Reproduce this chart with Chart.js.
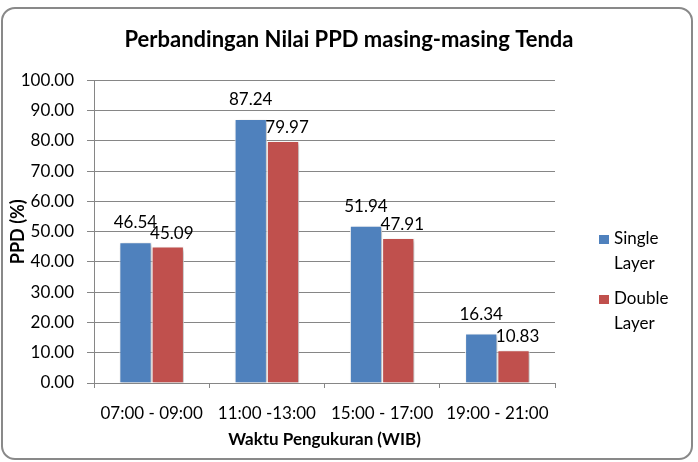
<!DOCTYPE html>
<html>
<head>
<meta charset="utf-8">
<script src="https://cdn.jsdelivr.net/npm/chart.js@4.4.1/dist/chart.umd.min.js"></script>
<style>
  html, body { margin: 0; padding: 0; background: #fff; }
  #wrap { position: relative; width: 698px; height: 462px; }
</style>
</head>
<body>
<div id="wrap"><canvas id="c" width="698" height="462"></canvas></div>
<script>
// chart data
const categories = ['07:00 - 09:00', '11:00 -13:00', '15:00 - 17:00', '19:00 - 21:00'];
const singleLayer = [46.54, 87.24, 51.94, 16.34];
const doubleLayer = [45.09, 79.97, 47.91, 10.83];
const seriesNames = ['Single Layer', 'Double Layer'];
const yTicks = [0, 10, 20, 30, 40, 50, 60, 70, 80, 90, 100];

const FONT = 'Lato, "Open Sans", sans-serif';
const gridGray = '#868686';

// rounded frame round the whole chart
const framePlugin = {
  id: 'frame',
  beforeDraw(chart) {
    const ctx = chart.ctx;
    ctx.save();
    ctx.fillStyle = '#fff';
    ctx.fillRect(0, 0, chart.width, chart.height);
    ctx.strokeStyle = '#898989';
    ctx.lineWidth = 2;
    ctx.beginPath();
    ctx.roundRect(2, 8, 690, 451, 13);
    ctx.stroke();
    ctx.restore();
  }
};

// bar shadows and value labels
// (excel nudges the second series' labels so they don't collide)
const labelShift = [{ dx: 0, gap: 14 }, { dx: 4, gap: 8 }];
const barPlugin = {
  id: 'barExtras',
  beforeDatasetsDraw(chart) {
    const ctx = chart.ctx;
    ctx.save();
    ctx.shadowColor = 'rgba(0,0,0,0.28)';
    ctx.shadowBlur = 4;
    ctx.shadowOffsetX = 2;
    ctx.shadowOffsetY = 2;
  },
  afterDatasetsDraw(chart) {
    const ctx = chart.ctx;
    ctx.restore();
    ctx.save();
    ctx.font = '17px ' + FONT;
    ctx.fillStyle = '#000';
    ctx.textAlign = 'center';
    ctx.textBaseline = 'alphabetic';
    chart.data.datasets.forEach((ds, i) => {
      const meta = chart.getDatasetMeta(i);
      const s = labelShift[i];
      meta.data.forEach((bar, j) => {
        ctx.fillText(ds.data[j].toFixed(2), bar.x + s.dx, bar.y - s.gap);
      });
    });
    ctx.restore();
  }
};

// legend on the right, names wrapped on two lines
const legendPlugin = {
  id: 'sideLegend',
  afterDraw(chart) {
    const ctx = chart.ctx;
    ctx.save();
    ctx.font = '17px ' + FONT;
    ctx.textBaseline = 'middle';
    ctx.textAlign = 'left';
    const tops = [239, 299];
    chart.data.datasets.forEach((ds, i) => {
      const y = tops[i];
      ctx.fillStyle = ds.backgroundColor;
      ctx.fillRect(599, y - 4, 10, 9);
      ctx.fillStyle = '#000';
      ds.label.split(' ').forEach((word, k) => {
        ctx.fillText(word, 614, y + k * 25);
      });
    });
    ctx.restore();
  }
};

new Chart(document.getElementById('c'), {
  type: 'bar',
  data: {
    labels: categories,
    datasets: [
      { label: seriesNames[0], data: singleLayer, backgroundColor: '#4F81BD', borderColor: '#fff', borderWidth: 1 },
      { label: seriesNames[1], data: doubleLayer, backgroundColor: '#C0504D', borderColor: '#fff', borderWidth: 1 }
    ]
  },
  plugins: [framePlugin, barPlugin, legendPlugin],
  options: {
    responsive: false,
    animation: false,
    categoryPercentage: 0.56,
    barPercentage: 1,
    layout: { padding: 0 },
    plugins: {
      legend: { display: false },
      tooltip: { enabled: false },
      title: {
        display: true,
        text: 'Perbandingan Nilai PPD masing-masing Tenda',
        color: '#000',
        font: { family: FONT, size: 22, weight: 'bold' },
        padding: { top: 27, bottom: 27 }
      }
    },
    scales: {
      x: {
        grid: { display: true, drawOnChartArea: false, offset: true, tickLength: 5, color: gridGray },
        border: { color: gridGray },
        ticks: { color: '#000', font: { family: FONT, size: 17 }, padding: 15, maxRotation: 0 },
        title: {
          display: true,
          text: 'Waktu Pengukuran (WIB)',
          color: '#000',
          font: { family: FONT, size: 17, weight: 'bold' },
          padding: { top: 0, bottom: 12 }
        },
        afterFit(scale) { scale.height = 79; }
      },
      y: {
        min: 0,
        max: 100,
        afterBuildTicks(scale) { scale.ticks = yTicks.map(v => ({ value: v })); },
        grid: { color: gridGray, tickLength: 7 },
        border: { color: gridGray },
        ticks: {
          color: '#000',
          font: { family: FONT, size: 17 },
          padding: 13,
          callback: v => Number(v).toFixed(2)
        },
        title: {
          display: true,
          text: 'PPD (%)',
          color: '#000',
          font: { family: FONT, size: 18, weight: 'bold' },
          padding: { top: 7, bottom: 0 }
        },
        afterFit(scale) { scale.width = 94; }
      },
      // empty axis that only keeps room for the legend on the right
      legendRoom: {
        type: 'linear',
        position: 'right',
        grid: { display: false },
        border: { display: false },
        ticks: { display: false },
        afterFit(scale) { scale.width = 143; }
      }
    }
  }
});
</script>
</body>
</html>
